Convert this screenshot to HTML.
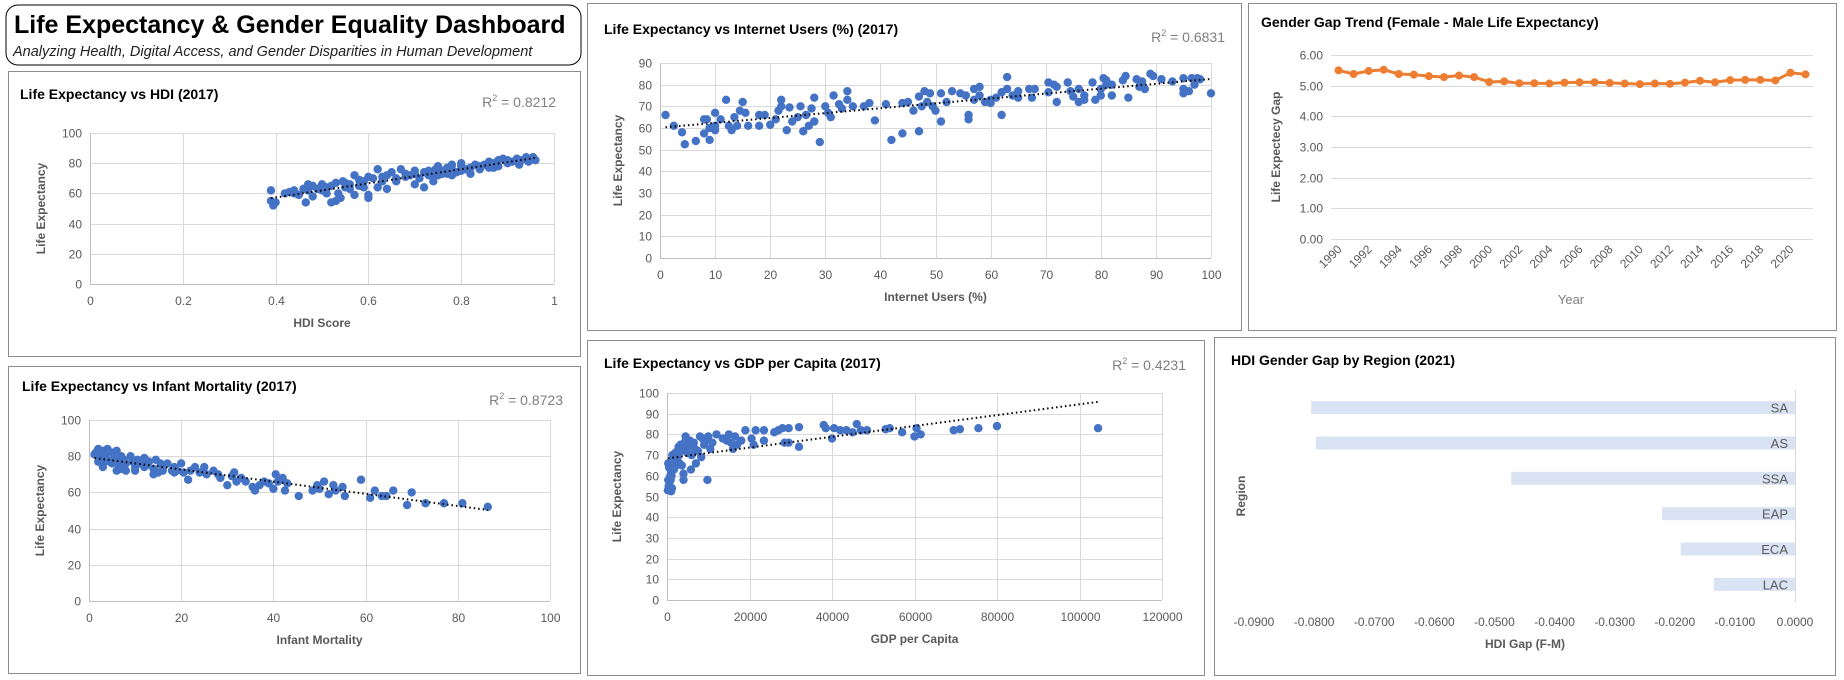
<!DOCTYPE html>
<html><head><meta charset="utf-8"><style>
body{margin:0;background:#fff;width:1844px;height:680px;overflow:hidden;font-family:"Liberation Sans",sans-serif}
svg{position:absolute;left:0;top:0}
</style></head><body>
<svg id="s" width="1844" height="680" xmlns="http://www.w3.org/2000/svg">
<rect x="6" y="5" width="575" height="60" rx="12" fill="#fff" stroke="#000" stroke-width="1"/>
<text x="14" y="33" font-size="25" font-weight="bold">Life Expectancy &amp; Gender Equality Dashboard</text>
<text x="13" y="56" font-size="14.5" font-style="italic" fill="#222">Analyzing Health, Digital Access, and Gender Disparities in Human Development</text>
</svg>
<script>
const hdiX=[0.39,0.39,0.395,0.40,0.42,0.43,0.44,0.45,0.46,0.465,0.47,0.48,0.48,0.49,0.50,0.50,0.51,0.52,0.52,0.53,0.53,0.535,0.54,0.55,0.55,0.56,0.57,0.57,0.58,0.58,0.59,0.60,0.60,0.60,0.61,0.62,0.62,0.63,0.64,0.64,0.65,0.66,0.67,0.68,0.69,0.70,0.70,0.71,0.72,0.72,0.73,0.74,0.745,0.75,0.75,0.76,0.77,0.77,0.78,0.78,0.79,0.80,0.80,0.81,0.82,0.82,0.83,0.84,0.85,0.86,0.86,0.87,0.88,0.88,0.89,0.90,0.90,0.91,0.92,0.925,0.93,0.94,0.945,0.95,0.96,0.955,0.76,0.74,0.70,0.68,0.66,0.63,0.59,0.56,0.545,0.51,0.47,0.44,0.80,0.84,0.87,0.78,0.73];
const hdiY=[62,55,52,54,60,61,60,59,63,54,62,58,65,63,62,66,64,65,54,67,55,60,57,64,67,63,72,59,69,65,68,71,59,57,70,76,64,68,72,63,74,70,76,73,72,75,66,70,74,64,72,68,76,78,72,75,77,73,76,79,74,78,80,76,77,73,79,76,79,81,77,80,82,78,83,82,80,81,83,79,82,84,81,83,82,84,73,71,73,71,68,71,64,66,68,60,66,62,75,78,77,72,75];
const netX=[1,2.5,4,4.5,6.5,8,8,8.5,9,9,10,10,10,11,12,12.5,13,13.5,14,14.5,15,15.5,16,18,18,19,20,21,21.5,22,22,23,23.5,24,25,25.5,26,26.5,27,27.5,28,28,29,30,30.5,31,31.5,32.5,33,34,34,35,37,38,39,41,42,44,44,45,46,47,47,47.5,48,48.5,49,49.5,50,51,51,52,53,54.5,55.5,56,56,57,57,58,58,59,60,60,61,62,62,63,63,64,65,65,67,67.5,68,70.5,70.5,71.5,72,72,74,74.5,75,76,76,77,77,78.5,79,80,80,80.5,81,81,82,82,84,84.5,85,86.5,87,87.5,88,89,89.5,91,93,95,95,95,96,96.5,97,97.5,98,100];
const netY=[66,61,58,52.5,54,57.5,64,64,54.5,60,67,61,59,64,73,61,59,65,61,68,72,67,61,61,66,66,61.5,64,68,73,70,59,69.5,63,65,70,58.5,66,61,69,74,63,53.5,70,67,65,75,71,69,73,77,70,70,71.5,63.5,71,54.5,57.5,71.5,72,68,74.5,58.5,70,77,72,76,70,68,76,63,72,77,76,75,66,64,73,78,79,75,72,73,71.5,74,66,76.5,83.5,78,75,77,74,78,74,78,81,76.5,80,79,72,81,77,74.5,78,72,73,75,81,73,75,78,83,80,82,75,80,82,84,74,82.5,79,81.5,78,85,84,82.5,81.5,76,78,83,77,83,80,83,82.5,76];
const infX=[1.5,2,2.5,3,3,3.5,4,4.5,5,5.5,6,6.5,7,7.5,8,9,9.5,10,10.5,11,12,12.5,13,14,14.5,15,15.5,16,17,18,18.5,19,20,20.5,21.5,22,23,24,25,25.5,27,28,28.5,30,31,31.5,32,33,34,35.5,36,37,38,39,40,40.5,41,42,42.5,43,45.5,48.5,49.5,50,51,52,53,53.5,55,55.5,59,61,62,63.5,64.5,66,69,70,73,77,81,86.5,2,3,4,5,6,7,8,6,3.5,1.2,10,12,14,16,18.5];
const infY=[82,84,79,76,83,80,84,77,82,79,83,75,80,78,76,80,77,74,78,76,79,75,77,73,78,71,76,74,76,72,74,72,76,71,67,72,74,71,74,70,72,70,68,64,69,71,66,68,66,63,61,64,66,65,62,70,66,68,61,65,58,61,64,62,66,59,64,61,63,58,67,57,61,58,58,61,53,60,54,54,54,52,77,74,78,76,72,73,72,79,81,81,72,74,70,72,71];
const gdpX=[200,400,600,800,1000,500,700,900,1200,1500,1300,1700,2000,2200,2500,2800,3000,3300,3600,4000,4000,4200,4500,4800,5200,5500,5800,6000,6500,6800,7000,7500,8000,8300,8600,9000,9500,9800,10000,10500,11000,12000,13500,14500,15000,15500,16000,16500,17000,18000,19000,20500,21000,21500,23500,23500,26000,27000,28000,28500,29500,29500,32000,32000,38000,38500,40000,40500,42000,43500,45000,46000,47000,48500,53000,54000,57000,60000,60500,61500,69500,71000,75500,80000,104500,300,1100,1800,2600,3500,1000,5000,300];
const gdpY=[53,55,57,60,62,64,66,58,54,68,70,63,71,65,72,74,66,75,65,61,58,76,79,73,75,77,63,70,76,73,66,72,79,69,78,75,77,58,79,73,76,80,78,77,80,76,73,79,75,77,82,78,75,82,82,77,81,82,83,76,76,83,74,83.5,84.5,83,78,83,82,82,81,85,82,82,82.5,83,81,79,83,80,82,82.5,83,84,83,58,60,67,69,72,52.5,71,66];
const trendYears=[];for(let y=1990;y<=2021;y++)trendYears.push(y);
const trendGap=[5.50,5.38,5.48,5.52,5.38,5.36,5.31,5.28,5.33,5.28,5.12,5.14,5.08,5.08,5.07,5.10,5.11,5.11,5.09,5.07,5.05,5.07,5.06,5.10,5.16,5.11,5.18,5.19,5.19,5.17,5.42,5.37];
const regions=["SA","AS","SSA","EAP","ECA","LAC"];
const regionGap=[-0.0805,-0.0797,-0.0472,-0.0221,-0.0190,-0.0135];
const hdiXTicks=["0","0.2","0.4","0.6","0.8","1"];
const gapXTicks=["-0.0900","-0.0800","-0.0700","-0.0600","-0.0500","-0.0400","-0.0300","-0.0200","-0.0100","0.0000"];

const S=document.getElementById('s');const NS='http://www.w3.org/2000/svg';
function mk(t,a,p){const e=document.createElementNS(NS,t);for(const k in a)e.setAttribute(k,a[k]);(p||S).appendChild(e);return e;}
function tx(x,y,s,a,p){const e=mk('text',Object.assign({x:x,y:y},a),p);e.textContent=s;return e;}
const GRAY='#595959',GRID='#d9d9d9',BLUE='#4472c4';

function panel(name,x,y,w,h){const r=mk('rect',{x:x+.5,y:y+.5,width:w,height:h,fill:'#fff',stroke:'#8c8c8c','stroke-width':1});

}
function title(name,x,y,s){const t=tx(x,y,s,{'font-size':14,'font-weight':'bold',fill:'#000'});

}

function scatter(o){
  panel(o.key+'-panel',o.px,o.py,o.pw,o.ph);
  title(o.key+'-title',o.tx,o.ty,o.title);
  const g=mk('g',{});
  
  
  const sx=v=>o.x0+(v-o.xmin)/(o.xmax-o.xmin)*(o.x1-o.x0);
  const sy=v=>o.y0-(v-o.ymin)/(o.ymax-o.ymin)*(o.y0-o.y1);
  for(let v=o.ymin;v<=o.ymax+1e-9;v+=o.ystep){const yy=Math.round(sy(v))+.5;
    mk('line',{x1:o.x0,x2:o.x1,y1:yy,y2:yy,stroke:v===o.ymin?'#bfbfbf':GRID},g);
    const t=tx(o.x0-8,yy+4,String(v),{'font-size':12,fill:GRAY,'text-anchor':'end'},g);
    
    }
  o.xticks.forEach((lab,i)=>{const v=o.xmin+i*o.xstep;const xx=Math.round(sx(v))+.5;
    mk('line',{x1:xx,x2:xx,y1:o.y1,y2:o.y0,stroke:i===0?'#bfbfbf':GRID},g);
    const t=tx(xx,o.y0+21,lab,{'font-size':12,fill:GRAY,'text-anchor':'middle'},g);
    
    });
  const X=o.xs,Y=o.ys;
  for(let i=0;i<X.length;i++){const c=mk('circle',{cx:sx(X[i]),cy:sy(Y[i]),r:4.2,fill:BLUE},g);
    
    }
  let n=X.length,mx=0,my=0;for(let i=0;i<n;i++){mx+=X[i];my+=Y[i];}mx/=n;my/=n;
  let sxy=0,sxx=0;for(let i=0;i<n;i++){sxy+=(X[i]-mx)*(Y[i]-my);sxx+=(X[i]-mx)**2;}
  const b=sxy/sxx,a=my-b*mx,xa=Math.min(...X),xb=Math.max(...X);
  const tl=mk('line',{x1:sx(xa),y1:sy(a+b*xa),x2:sx(xb),y2:sy(a+b*xb),stroke:'#000','stroke-width':2,'stroke-dasharray':'1.5 3'},g);
  
  
  const r=tx(o.rx,o.ry,'',{'font-size':14,fill:'#7f7f7f','text-anchor':'end'},g);
  r.innerHTML='R<tspan dy="-6" font-size="9">2</tspan><tspan dy="6"> = '+o.r2+'</tspan>';
  
  
  const xt=tx((o.x0+o.x1)/2,o.y0+43,o.xtitle,{'font-size':12,'font-weight':'bold',fill:GRAY,'text-anchor':'middle'},g);
  
  
  const yc=(o.y0+o.y1)/2;
  const yt=tx(o.ytx,yc,'Life Expectancy',{'font-size':12,'font-weight':'bold',fill:GRAY,'text-anchor':'middle',transform:`rotate(-90 ${o.ytx} ${yc})`},g);
  
  
}
scatter({key:'hdi',px:8,py:71,pw:572,ph:285,tx:20,ty:99,title:'Life Expectancy vs HDI (2017)',x0:90,x1:554,y0:284,y1:133,xmin:0,xmax:1,xstep:0.2,xticks:hdiXTicks,ymin:0,ymax:100,ystep:20,xs:hdiX,ys:hdiY,r2:'0.8212',rx:556,ry:107,xtitle:'HDI Score',ytx:45});
scatter({key:'infant',px:8,py:366,pw:572,ph:307,tx:22,ty:391,title:'Life Expectancy vs Infant Mortality (2017)',x0:89,x1:550,y0:601,y1:420,xmin:0,xmax:100,xstep:20,xticks:['0','20','40','60','80','100'],ymin:0,ymax:100,ystep:20,xs:infX,ys:infY,r2:'0.8723',rx:563,ry:405,xtitle:'Infant Mortality',ytx:44});
scatter({key:'internet',px:587,py:3,pw:654,ph:327,tx:604,ty:34,title:'Life Expectancy vs Internet Users (%) (2017)',x0:660,x1:1211,y0:258,y1:63,xmin:0,xmax:100,xstep:10,xticks:['0','10','20','30','40','50','60','70','80','90','100'],ymin:0,ymax:90,ystep:10,xs:netX,ys:netY,r2:'0.6831',rx:1225,ry:42,xtitle:'Internet Users (%)',ytx:622});
scatter({key:'gdp',px:587,py:340,pw:617,ph:335,tx:604,ty:368,title:'Life Expectancy vs GDP per Capita (2017)',x0:667,x1:1162,y0:600,y1:393,xmin:0,xmax:120000,xstep:20000,xticks:['0','20000','40000','60000','80000','100000','120000'],ymin:0,ymax:100,ystep:10,xs:gdpX,ys:gdpY,r2:'0.4231',rx:1186,ry:370,xtitle:'GDP per Capita',ytx:621});

// Trend line chart
panel('trend-panel',1248,3,588,327);
title('trend-title',1261,27,'Gender Gap Trend (Female - Male Life Expectancy)');
(function(){
  const g=mk('g',{});
  
  
  const x0=1331,x1=1813,y0=239,y1=55,ymax=6;
  const sy=v=>y0-v/ymax*(y0-y1);
  const bw=(x1-x0)/trendYears.length;const sx=i=>x0+bw*(i+.5);
  for(let v=0;v<=ymax;v++){const yy=Math.round(sy(v))+.5;
    mk('line',{x1:x0,x2:x1,y1:yy,y2:yy,stroke:GRID},g);
    const t=tx(x0-8,yy+4,v.toFixed(2),{'font-size':12,fill:GRAY,'text-anchor':'end'},g);
    
    }
  trendYears.forEach((yr,i)=>{if(i%2)return;const xx=sx(i)+4,yy=250;
    const t=tx(xx,yy,String(yr),{'font-size':12,fill:GRAY,'text-anchor':'end',transform:`rotate(-45 ${xx} ${yy})`},g);
    
    });
  const pts=trendGap.map((v,i)=>sx(i)+','+sy(v)).join(' ');
  const pl=mk('polyline',{points:pts,fill:'none',stroke:'#ed7d31','stroke-width':3,'stroke-linejoin':'round'},g);
  
  
  trendGap.forEach((v,i)=>{const c=mk('circle',{cx:sx(i),cy:sy(v),r:4,fill:'#ed7d31'},g);
    
    });
  const xt=tx(1571,304,'Year',{'font-size':13,fill:'#7f7f7f','text-anchor':'middle'},g);
  
  
  const yt=tx(1280,147,'Life Expectecy Gap',{'font-size':12,'font-weight':'bold',fill:GRAY,'text-anchor':'middle',transform:'rotate(-90 1280 147)'},g);
  
  
})();

// Region bar chart
panel('region-panel',1214,337,621,338);
title('region-title',1231,365,'HDI Gender Gap by Region (2021)');
(function(){
  const g=mk('g',{});
  
  
  const xz=1795,xl=1254,xmin=-0.09,y0=390,y1=602;
  const sx=v=>xz+(v/(-xmin))*(xz-xl);
  gapXTicks.forEach((lab,i)=>{const v=xmin+i*0.01;
    const t=tx(sx(v),626,lab,{'font-size':12,fill:GRAY,'text-anchor':'middle'},g);
    
    });
  const band=(y1-y0)/regions.length;
  regions.forEach((r,i)=>{const cy=y0+band*(i+.5),h=13;
    const b=mk('rect',{x:sx(regionGap[i]),y:cy-h/2,width:xz-sx(regionGap[i]),height:h,fill:'#dae3f3'},g);
    
    
    const t=tx(xz-7,cy+5,r,{'font-size':13,fill:GRAY,'text-anchor':'end'},g);
    
    });
  mk('line',{x1:xz+.5,x2:xz+.5,y1:y0,y2:y1,stroke:GRID},g);
  const xt=tx(1525,648,'HDI Gap (F-M)',{'font-size':12,'font-weight':'bold',fill:GRAY,'text-anchor':'middle'},g);
  
  
  const yt=tx(1245,496,'Region',{'font-size':12,'font-weight':'bold',fill:GRAY,'text-anchor':'middle',transform:'rotate(-90 1245 496)'},g);
  
  
})();
</script>
</body></html>
